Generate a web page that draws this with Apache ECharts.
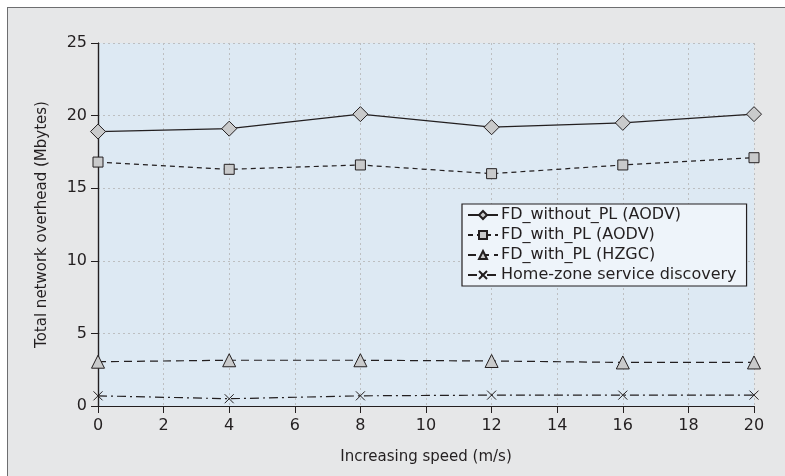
<!DOCTYPE html>
<html lang="en">
<head>
	<meta charset="utf-8">
	<title>Total network overhead</title>
	<script src="https://cdn.jsdelivr.net/npm/echarts@6/dist/echarts.min.js"></script>
	<style>
		html, body { margin: 0; padding: 0; background: #fff; }
		#frame { position: absolute; left: 7px; top: 7px; width: 778px; height: 469px;
			background: #e6e7e8; border-left: 1px solid #6d6e70; border-top: 1px solid #6d6e70; }
		#chart { position: absolute; left: 0; top: 0; width: 785px; height: 476px; }
	</style>
</head>
<body>
<div id="frame"></div>
<div id="chart"></div>
<script>
    // speeds (m/s)
    var speeds = [0, 4, 8, 12, 16, 20];
    // overhead in Mbytes
    var fdWithoutPlAodv = [18.9, 19.1, 20.1, 19.2, 19.5, 20.1];
    var fdWithPlAodv = [16.8, 16.3, 16.6, 16.0, 16.6, 17.1];
    var fdWithPlHzgc = [3.05, 3.15, 3.15, 3.1, 3.0, 3.0];
    var homeZone = [0.7, 0.5, 0.7, 0.75, 0.75, 0.75];
    var seriesNames = ['FD_without_PL (AODV)', 'FD_with_PL (AODV)', 'FD_with_PL (HZGC)', 'Home-zone service discovery'];

    function pairs(vals) {
        return speeds.map(function (s, i) { return [s, vals[i]]; });
    }

    var font = 'DejaVu Sans';
    var ink = '#231f20';
    var markerStyle = { color: '#c9cacb', borderColor: ink, borderWidth: 1 };

    function mkSeries(name, vals, symbol, size, dash) {
        return {
            name: name,
            type: 'line',
            data: pairs(vals),
            symbol: symbol,
            symbolSize: size,
            showAllSymbol: true,
            lineStyle: { color: ink, width: 1.2, type: dash },
            itemStyle: markerStyle,
            emphasis: { disabled: true },
            z: 3
        };
    }

    var chart = echarts.init(document.getElementById('chart'));
    var option = {
        animation: false,
        backgroundColor: 'transparent',
        textStyle: { fontFamily: font },
        grid: {
            left: 98, right: 31, top: 43, bottom: 70,
            show: true, backgroundColor: '#dde9f3', borderWidth: 0
        },
        legend: {
            data: seriesNames,
            orient: 'vertical',
            left: 462, top: 204,
            width: 286,
            padding: [3, 10, 3, 5],
            itemGap: 4,
            itemWidth: 30,
            itemHeight: 10,
            backgroundColor: '#eef4fa',
            borderColor: ink,
            borderWidth: 1.2,
            textStyle: { fontFamily: font, fontSize: 16, color: ink, padding: [0, 0, 0, -2] }
        },
        xAxis: [{
            type: 'value',
            min: 0, max: 20, interval: 2,
            name: 'Increasing speed (m/s)',
            nameLocation: 'middle',
            nameGap: 44,
            nameTextStyle: { fontFamily: font, fontSize: 15, color: ink },
            axisLine: { lineStyle: { color: ink, width: 1.2 } },
            axisTick: { show: true, length: 7, lineStyle: { color: ink } },
            axisLabel: { fontFamily: font, fontSize: 16, color: ink, margin: 12 },
            splitLine: { show: true, lineStyle: { color: '#bdbfc1', type: [2, 3] } }
        }, {
            type: 'value',
            position: 'top',
            min: 0, max: 20, interval: 2,
            axisLine: { show: true, lineStyle: { color: ink, width: 1.2 } },
            axisTick: { show: true, inside: true, length: 7, lineStyle: { color: ink } },
            axisLabel: { show: false },
            splitLine: { show: false }
        }],
        yAxis: [{
            type: 'value',
            min: 0, max: 25, interval: 5,
            name: 'Total network overhead (Mbytes)',
            nameLocation: 'middle',
            nameGap: 48,
            nameTextStyle: { fontFamily: font, fontSize: 15, color: ink },
            axisLine: { show: true, lineStyle: { color: ink, width: 1.2 } },
            axisTick: { show: true, length: 7, lineStyle: { color: ink } },
            axisLabel: { fontFamily: font, fontSize: 16, color: ink, margin: 11 },
            splitLine: { show: true, lineStyle: { color: '#bdbfc1', type: [2, 3] } }
        }, {
            type: 'value',
            position: 'right',
            min: 0, max: 25, interval: 5,
            axisLine: { show: true, lineStyle: { color: ink, width: 1.2 } },
            axisTick: { show: true, inside: true, length: 7, lineStyle: { color: ink } },
            axisLabel: { show: false },
            splitLine: { show: false }
        }],
        series: [
            mkSeries(seriesNames[0], fdWithoutPlAodv, 'diamond', 15, 'solid'),
            mkSeries(seriesNames[1], fdWithPlAodv, 'rect', 10, [5, 4]),
            mkSeries(seriesNames[2], fdWithPlHzgc, 'triangle', 13, [8, 5]),
            mkSeries(seriesNames[3], homeZone, 'path://M0,0L10,10M10,0L0,10', 9, [9, 4, 2, 4])
        ]
    };
    chart.setOption(option);
</script>
</body>
</html>
